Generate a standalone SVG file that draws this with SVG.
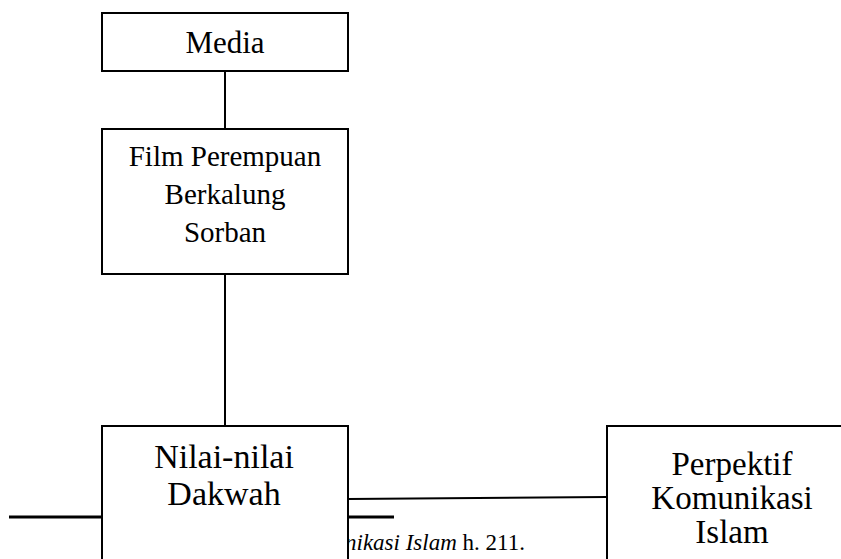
<svg xmlns="http://www.w3.org/2000/svg" width="841" height="559" viewBox="0 0 841 559">
<style>
.box{fill:#fff;stroke:#000;stroke-width:2}
.con{fill:none;stroke:#000;stroke-width:2}
.t{font-family:"Liberation Serif","Times New Roman",serif;fill:#000;text-anchor:middle}
.fn{font-family:"Liberation Serif","Times New Roman",serif;fill:#000;font-size:23px}
</style>
<rect width="841" height="559" fill="#fff"/>
<g id="footnote">
<line x1="9" y1="517" x2="394" y2="517" stroke="#000" stroke-width="3"/>
<text class="fn" x="345" y="550"><tspan font-style="italic">nikasi Islam</tspan> h. 211.</text>
</g>
<g id="connectors">
<line class="con" x1="225" y1="71" x2="225" y2="129"/>
<line class="con" x1="225" y1="274" x2="225" y2="426"/>
<line class="con" x1="348" y1="499" x2="607" y2="497"/>
</g>
<g id="media">
<rect class="box" x="102" y="13" width="246" height="58"/>
<text class="t" x="225" y="53" font-size="31">Media</text>
</g>
<g id="film">
<rect class="box" x="102" y="129" width="246" height="145"/>
<text class="t" font-size="29"><tspan x="225" y="166">Film Perempuan</tspan><tspan x="225" y="204">Berkalung</tspan><tspan x="225" y="242">Sorban</tspan></text>
</g>
<g id="nilai">
<rect class="box" x="102" y="426" width="246" height="150"/>
<text class="t" font-size="34"><tspan x="224" y="468">Nilai-nilai</tspan><tspan x="224" y="505">Dakwah</tspan></text>
</g>
<g id="perpektif">
<rect class="box" x="607" y="426" width="250" height="150"/>
<text class="t" font-size="33"><tspan x="732" y="475">Perpektif</tspan><tspan x="732" y="509">Komunikasi</tspan><tspan x="732" y="543">Islam</tspan></text>
</g>
</svg>
